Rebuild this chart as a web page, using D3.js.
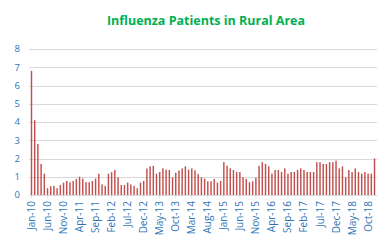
<!DOCTYPE html>
<html>
<head>
<meta charset="utf-8">
<script src="https://cdn.jsdelivr.net/npm/d3@7"></script>
<style>
  body { margin: 0; background: #fff; }
  text { font-family: "Open Sans", "Liberation Sans", sans-serif; }
</style>
</head>
<body>
<div class="chart"></div>
<script>
var svgWidth = 388;
var svgHeight = 242;

// monthly values, Jan-10 .. Dec-18
var values = [
  6.8, 4.1, 2.8, 1.7, 1.17, 0.37, 0.48, 0.5, 0.37, 0.55, 0.68, 0.77,
  0.7, 0.77, 0.88, 1.0, 0.9, 0.7, 0.7, 0.77, 0.9, 1.17, 0.58, 0.5,
  1.17, 1.25, 1.37, 0.97, 0.55, 0.55, 0.68, 0.58, 0.5, 0.37, 0.68, 0.77,
  1.45, 1.57, 1.6, 1.17, 1.26, 1.46, 1.39, 1.37, 0.97, 1.22, 1.35, 1.46,
  1.57, 1.39, 1.46, 1.35, 1.15, 0.97, 0.9, 0.75, 0.75, 0.88, 0.68, 0.77,
  1.8, 1.6, 1.46, 1.37, 1.26, 1.26, 0.97, 0.88, 0.7, 0.75, 0.95, 1.6,
  1.8, 1.7, 1.57, 1.17, 1.37, 1.37, 1.26, 1.46, 1.17, 1.26, 1.26, 1.37,
  1.46, 1.37, 1.26, 1.26, 1.26, 1.8, 1.8, 1.7, 1.7, 1.8, 1.8, 1.88,
  1.46, 1.57, 0.97, 1.37, 1.26, 1.46, 1.26, 1.17, 1.26, 1.17, 1.17, 2.0
];

var monthNames = ["Jan","Feb","Mar","Apr","May","Jun","Jul","Aug","Sep","Oct","Nov","Dec"];
var months = values.map(function(d, i) {
  return monthNames[i % 12] + "-" + (10 + Math.floor(i / 12));
});

// every 5th month gets a label
var tickLabels = months.filter(function(d, i) { return i % 5 === 0; });
var yTicks = [0, 1, 2, 3, 4, 5, 6, 7, 8];

var margin = { top: 49, right: 11, bottom: 47, left: 29 };
var width = svgWidth - margin.left - margin.right;
var height = svgHeight - margin.top - margin.bottom;

var svg = d3.select(".chart")
  .append("svg")
  .attr("width", svgWidth)
  .attr("height", svgHeight);

svg.append("text")
  .attr("x", 206)
  .attr("y", 25)
  .attr("text-anchor", "middle")
  .attr("fill", "#00b050")
  .attr("font-weight", "bold")
  .attr("font-size", 12.5)
  .text("Influenza Patients in Rural Area");

var chart = svg.append("g")
  .attr("transform", "translate(" + margin.left + "," + margin.top + ")");

var x = d3.scaleBand()
  .domain(months)
  .range([0, width])
  .padding(0.55);

var y = d3.scaleLinear()
  .domain([0, 8])
  .range([height, 0]);

// gridlines
chart.selectAll(".grid")
  .data(yTicks)
  .enter()
  .append("line")
  .attr("x1", 0)
  .attr("x2", width)
  .attr("y1", function(d) { return Math.round(y(d)) + 0.5; })
  .attr("y2", function(d) { return Math.round(y(d)) + 0.5; })
  .attr("stroke", "#d9d9d9")
  .attr("stroke-width", 1);

// y labels
chart.selectAll(".ylab")
  .data(yTicks)
  .enter()
  .append("text")
  .attr("x", -9)
  .attr("y", function(d) { return y(d); })
  .attr("dy", "0.35em")
  .attr("text-anchor", "end")
  .attr("fill", "#2e75b6")
  .attr("font-size", 9.5)
  .text(function(d) { return d; });

// bars
chart.selectAll(".bar")
  .data(values)
  .enter()
  .append("rect")
  .attr("x", function(d, i) { return x(months[i]); })
  .attr("y", function(d) { return y(d); })
  .attr("width", x.bandwidth())
  .attr("height", function(d) { return height - y(d); })
  .attr("fill", "#c0504d");

// x axis
var xAxis = d3.axisBottom(x)
  .tickValues(tickLabels)
  .tickSize(3)
  .tickSizeOuter(0);

var gx = chart.append("g")
  .attr("transform", "translate(0," + height + ")")
  .call(xAxis);

gx.select(".domain").attr("stroke", "#d9d9d9");
gx.selectAll(".tick line").attr("stroke", "#d9d9d9");
gx.selectAll(".tick text")
  .attr("fill", "#2e75b6")
  .attr("font-size", 10)
  .attr("font-family", "\"Open Sans\", sans-serif")
  .attr("transform", "rotate(-90)")
  .attr("text-anchor", "end")
  .attr("x", -6)
  .attr("y", 0)
  .attr("dy", "0.35em");
</script>
</body>
</html>
